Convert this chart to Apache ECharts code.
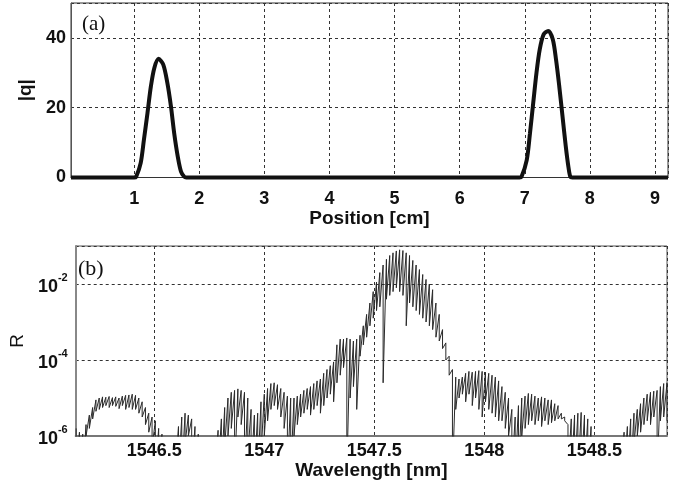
<!DOCTYPE html>
<html>
<head>
<meta charset="utf-8">
<script src="https://cdn.jsdelivr.net/npm/echarts@6/dist/echarts.min.js"></script>
<style>
  html, body { margin: 0; padding: 0; background: #fff; }
  #chart { width: 679px; height: 482px; }
</style>
</head>
<body>
<div id="chart"></div>
<script>
// (a) coupling profile |q| along the grating
const position = [0.03, 1.0, 1.03, 1.10, 1.15, 1.205, 1.257, 1.31, 1.375, 1.446, 1.51, 1.565, 1.615, 1.67, 1.72, 1.77, 1.8,
  6.92, 6.95, 7.03, 7.08, 7.13, 7.18, 7.23, 7.29, 7.36, 7.43, 7.48, 7.53, 7.58, 7.63, 7.67, 7.70, 7.73, 9.2];
const qAbs = [0, 0, 0.2, 4.1, 10.8, 18.5, 26.1, 31.4, 34.0, 32.4, 27.1, 20.4, 12.7, 6.0, 1.7, 0.2, 0,
  0, 0.2, 5.0, 12.7, 21.4, 30.0, 36.7, 41.0, 42.0, 39.6, 33.8, 26.1, 17.5, 8.9, 3.1, 0.2, 0, 0];

// (b) reflection spectrum as log10(R).
// The fine ripple is drawn between a top and a bottom trace; -7 = below the axis.
const wavelength = [
  1546.145, 1546.16, 1546.175, 1546.19, 1546.205, 1546.22, 1546.235, 1546.25, 1546.265, 1546.28,
  1546.295, 1546.31, 1546.325, 1546.34, 1546.355, 1546.37, 1546.385, 1546.4, 1546.415, 1546.43,
  1546.445, 1546.46, 1546.475, 1546.49, 1546.505, 1546.52, 1546.535, 1546.55, 1546.565, 1546.58,
  1546.595, 1546.61, 1546.625, 1546.64, 1546.655, 1546.67, 1546.685, 1546.7, 1546.715, 1546.73,
  1546.745, 1546.76, 1546.775, 1546.79, 1546.805, 1546.82, 1546.835, 1546.85, 1546.865, 1546.88,
  1546.895, 1546.91, 1546.925, 1546.94, 1546.955, 1546.97, 1546.985, 1547, 1547.015, 1547.03,
  1547.045, 1547.06, 1547.075, 1547.09, 1547.105, 1547.12, 1547.135, 1547.15, 1547.165, 1547.18,
  1547.195, 1547.21, 1547.225, 1547.24, 1547.255, 1547.27, 1547.285, 1547.3, 1547.315, 1547.33,
  1547.345, 1547.36, 1547.375, 1547.39, 1547.405, 1547.42, 1547.435, 1547.45, 1547.465, 1547.48,
  1547.495, 1547.51, 1547.525, 1547.54, 1547.555, 1547.57, 1547.585, 1547.6, 1547.615, 1547.63,
  1547.645, 1547.66, 1547.675, 1547.69, 1547.705, 1547.72, 1547.735, 1547.75, 1547.765, 1547.78,
  1547.795, 1547.81, 1547.825, 1547.84, 1547.855, 1547.87, 1547.885, 1547.9, 1547.915, 1547.93,
  1547.945, 1547.96, 1547.975, 1547.99, 1548.005, 1548.02, 1548.035, 1548.05, 1548.065, 1548.08,
  1548.095, 1548.11, 1548.125, 1548.14, 1548.155, 1548.17, 1548.185, 1548.2, 1548.215, 1548.23,
  1548.245, 1548.26, 1548.275, 1548.29, 1548.305, 1548.32, 1548.335, 1548.35, 1548.365, 1548.38,
  1548.395, 1548.41, 1548.425, 1548.44, 1548.455, 1548.47, 1548.485, 1548.5, 1548.515, 1548.53,
  1548.545, 1548.56, 1548.575, 1548.59, 1548.605, 1548.62, 1548.635, 1548.65, 1548.665, 1548.68,
  1548.695, 1548.71, 1548.725, 1548.74, 1548.755, 1548.77, 1548.785, 1548.8, 1548.815, 1548.83
];
const logRTop = [
  -5.8, -5.9, -5.95, -5.7, -5.45, -5.25, -5.05, -5.0, -4.97, -4.98,
  -4.96, -4.99, -4.97, -5.0, -4.95, -4.93, -4.92, -4.9, -4.93, -5.0,
  -5.1, -5.25, -5.4, -5.5, -5.6, -5.8, -5.95, -7, -7, -7,
  -6.1, -5.75, -5.5, -5.4, -5.45, -5.55, -5.75, -5.95, -7, -7,
  -7, -7, -7, -5.85, -5.55, -5.25, -5.0, -4.85, -4.8, -4.76,
  -4.8, -4.85, -5.0, -5.3, -5.45, -5.4, -5.1, -4.9, -4.75, -4.62,
  -4.6, -4.65, -4.75, -4.85, -4.95, -5.0, -5.0, -4.95, -4.9, -4.8,
  -4.75, -4.7, -4.62, -4.55, -4.5, -4.35, -4.25, -4.15, -4.05, -3.6,
  -3.45, -3.45, -3.42, -3.45, -3.5, -3.45, -3.35, -3.1, -2.8, -2.5,
  -2.2, -1.95, -1.7, -1.5, -1.35, -1.25, -1.18, -1.13, -1.1, -1.12,
  -1.18, -1.25, -1.38, -1.5, -1.62, -1.75, -1.88, -2.0, -2.15, -2.5,
  -2.8, -3.2, -3.55, -3.9, -4.25, -4.45, -4.5, -4.45, -4.35, -4.3,
  -4.32, -4.3, -4.28, -4.3, -4.32, -4.35, -4.4, -4.45, -4.55, -4.7,
  -4.85, -5.0, -5.3, -5.5, -5.2, -5.0, -4.95, -4.88, -4.9, -4.95,
  -5.0, -4.97, -5.0, -5.05, -5.05, -5.15, -5.2, -5.4, -5.5, -5.7,
  -5.55, -5.45, -5.4, -5.38, -5.45, -5.55, -5.75, -7, -7, -7,
  -7, -7, -7, -7, -7, -7, -5.9, -5.75, -5.55, -5.4,
  -5.3, -5.15, -5.0, -4.9, -4.85, -4.82, -4.8, -4.7, -4.62, -4.6
];
const logRBottom = [
  -7, -7, -7, -6.0, -5.8, -5.55, -5.35, -5.3, -5.25, -5.2,
  -5.25, -5.2, -5.22, -5.28, -5.2, -5.3, -5.25, -5.3, -5.3, -5.4,
  -5.5, -5.7, -5.9, -6.3, -7, -7, -7, -7, -7, -7,
  -7, -7, -7, -6.2, -6.0, -7, -7, -7, -7, -7,
  -7, -7, -7, -7, -7, -6.3, -6.0, -5.8, -7, -5.5,
  -5.7, -7, -6.5, -7, -7, -7, -6.5, -6.0, -5.6, -5.3,
  -5.2, -5.3, -5.5, -5.8, -7, -7, -6.0, -5.7, -5.5, -5.4,
  -5.3, -5.45, -5.3, -5.2, -5.4, -5.2, -5.0, -4.9, -5.1, -4.6,
  -4.4, -4.2, -7, -5.0, -4.7, -5.3, -3.9, -3.6, -3.4, -3.1,
  -2.9, -2.7, -2.6, -4.6, -2.4, -2.3, -2.2, -2.1, -2.2, -2.3,
  -3.1, -2.5, -2.6, -2.7, -2.8, -2.9, -3.0, -3.1, -3.2, -3.4,
  -3.5, -3.7, -4.0, -4.4, -7, -5.3, -5.0, -4.9, -5.1, -4.9,
  -5.2, -5.0, -5.3, -5.5, -5.1, -5.3, -5.4, -5.5, -5.6, -5.6,
  -5.8, -6.0, -7, -7, -7, -6.0, -5.8, -5.7, -5.6, -5.7,
  -5.6, -5.75, -5.6, -5.7, -5.65, -5.6, -5.55, -5.55, -5.6, -7,
  -7, -7, -7, -7, -7, -7, -7, -7, -7, -7,
  -7, -7, -7, -7, -7, -7, -7, -7, -7, -6.2,
  -6.0, -5.9, -5.7, -5.6, -5.7, -5.5, -7, -5.6, -5.5, -5.6
];

const chart = echarts.init(document.getElementById('chart'));

const tickFont = { color: '#111', fontFamily: 'Liberation Sans, Arial, sans-serif', fontWeight: 'bold', fontSize: 18 };
const nameFont = { color: '#111', fontFamily: 'Liberation Sans, Arial, sans-serif', fontWeight: 'bold', fontSize: 19 };
const gridDash = { show: true, lineStyle: { color: '#333', type: [3, 3], width: 1 } };

// ripple: at each sample go from the top trace down to the bottom trace
const spectrum = [];
wavelength.forEach((w, i) => {
  spectrum.push([w, logRTop[i]]);
  spectrum.push([w, logRBottom[i]]);
});

chart.setOption({
  animation: false,
  graphic: [
    { type: 'text', left: 82, top: 14, style: { text: '(a)', font: '21px "Liberation Serif", "Times New Roman", serif', fill: '#111' } },
    { type: 'text', left: 78, top: 258, style: { text: '(b)', font: '22px "Liberation Serif", "Times New Roman", serif', fill: '#111' } }
  ],
  grid: [
    { left: 71, right: 11, top: 3, height: 174.5, show: true, borderColor: '#333', borderWidth: 1 },
    { left: 71, right: 12, top: 246, height: 190, show: true, borderColor: '#555', borderWidth: 1 }
  ],
  xAxis: [{
    gridIndex: 0,
    type: 'value',
    min: 0.03,
    max: 9.2,
    splitNumber: 9,
    name: 'Position [cm]',
    nameLocation: 'middle',
    nameGap: 28,
    nameTextStyle: nameFont,
    axisLine: { show: true, lineStyle: { color: '#333' } },
    axisTick: { show: false },
    axisLabel: Object.assign({ margin: 13, showMinLabel: false, showMaxLabel: false }, tickFont),
    splitLine: gridDash
  }, {
    gridIndex: 1,
    type: 'value',
    min: 1546.143,
    max: 1548.83,
    splitNumber: 5,
    name: 'Wavelength [nm]',
    nameLocation: 'middle',
    nameGap: 23,
    nameTextStyle: nameFont,
    axisLine: { show: true, lineStyle: { color: '#777', width: 2 } },
    axisTick: { show: false },
    axisLabel: Object.assign({ margin: 6, showMinLabel: false, showMaxLabel: false, formatter: v => String(v) }, tickFont),
    splitLine: gridDash
  }],
  yAxis: [{
    gridIndex: 0,
    type: 'value',
    min: 0,
    max: 50,
    interval: 20,
    name: '|q|',
    nameLocation: 'middle',
    nameRotate: 90,
    nameGap: 36,
    nameTextStyle: nameFont,
    axisLine: { show: true, lineStyle: { color: '#555' } },
    axisTick: { show: false },
    axisLabel: Object.assign({ margin: 5, showMaxLabel: false }, tickFont),
    splitLine: gridDash
  }, {
    gridIndex: 1,
    type: 'value',
    min: -6,
    max: -1,
    interval: 2,
    name: 'R',
    nameLocation: 'middle',
    nameRotate: 90,
    nameGap: 42,
    nameTextStyle: { color: '#111', fontFamily: 'Liberation Sans, Arial, sans-serif', fontSize: 19 },
    axisLine: { show: true, lineStyle: { color: '#888', width: 2 } },
    axisTick: { show: false },
    axisLabel: {
      margin: 8,
      showMaxLabel: false,
      formatter: v => '{b|10}{s|' + v + '}',
      rich: {
        b: { fontFamily: 'Liberation Sans, Arial, sans-serif', fontWeight: 'bold', fontSize: 18, color: '#111', lineHeight: 24, verticalAlign: 'bottom' },
        s: { fontFamily: 'Liberation Sans, Arial, sans-serif', fontWeight: 'bold', fontSize: 11, color: '#111', lineHeight: 24, verticalAlign: 'top' }
      }
    },
    splitLine: gridDash
  }],
  series: [{
    type: 'line',
    xAxisIndex: 0,
    yAxisIndex: 0,
    data: position.map((p, i) => [p, qAbs[i]]),
    showSymbol: false,
    smooth: 0.3,
    clip: false,
    lineStyle: { color: '#111', width: 4 }
  }, {
    type: 'line',
    xAxisIndex: 1,
    yAxisIndex: 1,
    data: spectrum,
    showSymbol: false,
    clip: true,
    lineStyle: { color: '#2a2a2a', width: 1 }
  }]
});
</script>
</body>
</html>
